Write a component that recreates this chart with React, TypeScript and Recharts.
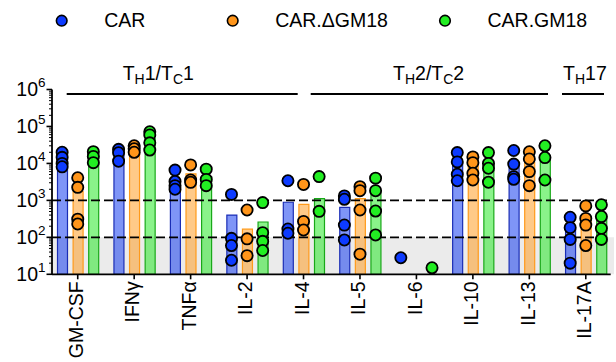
import {
  ComposedChart,
  Bar,
  Scatter,
  XAxis,
  YAxis,
  ReferenceArea,
  ReferenceLine,
} from 'recharts'

const FONT = '"Liberation Sans", Arial, Helvetica, sans-serif'

const cytokines = ['GM-CSF', 'IFNγ', 'TNFα', 'IL-2', 'IL-4', 'IL-5', 'IL-6', 'IL-10', 'IL-13', 'IL-17A']

// single donors, pg/ml
const carPoints: number[][] = [
  [20000, 14600, 10000, 8100],
  [24000, 19500, 11500],
  [6600, 3250, 2500, 2000],
  [1450, 94, 60, 24],
  [3400, 168, 129],
  [1320, 1070, 215, 85],
  [28],
  [19600, 11000, 5070, 3400],
  [22400, 9600, 4370, 3720],
  [348, 183, 88, 20],
]
const deltaPoints: number[][] = [
  [4100, 2250, 310, 230],
  [30000, 25000, 20000],
  [9100, 3550, 3080],
  [550, 91, 32],
  [2700, 270, 158],
  [2350, 1830, 550, 35],
  [],
  [15000, 10500, 5400, 3560],
  [20600, 13200, 6000, 2500],
  [710, 325, 215, 60],
]
const gmPoints: number[][] = [
  [20800, 15500, 10500],
  [72000, 59000, 36000, 23000],
  [7000, 3700, 2500],
  [870, 134, 78, 44],
  [4400, 505],
  [4000, 1830, 515, 116],
  [15],
  [19600, 10000, 7400, 3100],
  [30000, 14400, 3560],
  [760, 365, 175, 88],
]

// group means (bars)
const carMeans = [13200, 18300, 3600, 400, 890, 650, null, 9800, 10000, 160]
const deltaMeans = [1720, 25000, 5240, 166, 780, 1120, null, 8600, 10600, 330]
const gmMeans = [15700, 47500, 4400, 260, 1120, 1600, null, 10000, 16000, 350]

const majorTicks = [10, 100, 1000, 10000, 100000, 1000000]
const minorTicks = [10, 100, 1000, 10000, 100000].flatMap((d) =>
  [2, 3, 4, 5, 6, 7, 8, 9].map((m) => m * d)
)

const series = [
  { key: 'car', label: 'CAR', dot: '#0d3bff', fill: '#0a33f0', stroke: '#1a2db5', points: carPoints, dx: -15.6 },
  { key: 'delta', label: 'CAR.ΔGM18', dot: '#ff951a', fill: '#ff9a1a', stroke: '#ff9a1a', points: deltaPoints, dx: 0 },
  { key: 'gm', label: 'CAR.GM18', dot: '#22ee22', fill: '#1ee81e', stroke: '#19a819', points: gmPoints, dx: 15.6 },
]

const chartData = cytokines.map((name, i) => ({
  name,
  car: carMeans[i],
  delta: deltaMeans[i],
  gm: gmMeans[i],
}))

const toScatter = (points: number[][]) =>
  cytokines.flatMap((name, i) => points[i].map((v) => ({ name, v })))

function LogTick({ x, y, payload }: any) {
  const v = payload.value
  const exp = Math.round(Math.log10(v))
  const major = Math.abs(Math.log10(v) - exp) < 1e-6
  if (!major) {
    return <line x1={x} x2={x - 3} y1={y} y2={y} stroke="#000" strokeWidth={1} />
  }
  return (
    <g>
      <line x1={x} x2={x - 5.5} y1={y} y2={y} stroke="#000" strokeWidth={1.6} />
      <text x={x - 6.5} y={y} textAnchor="end" fontSize={19.5} fontFamily={FONT} fill="#000">
        <tspan dy={6.5}>10</tspan>
        <tspan dy={-9} fontSize={13.5}>
          {exp}
        </tspan>
      </text>
    </g>
  )
}

function CytokineTick({ x, y, payload }: any) {
  return (
    <text
      transform={`translate(${x},${y}) rotate(-90)`}
      textAnchor="end"
      dy={5.3}
      fontSize={19.5}
      fontFamily={FONT}
      fill="#000"
    >
      {payload.value}
    </text>
  )
}

const makeDot = (dx: number, color: string) => (props: any) => {
  if (props.cx == null || props.cy == null) return <g />
  return (
    <circle cx={props.cx + dx} cy={props.cy} r={5.6} fill={color} stroke="#000" strokeWidth={1.8} />
  )
}

const groups = [
  { x1: 66.7, x2: 297.7, tx: 122.7, parts: ['1/T', '1'], sub: ['H', 'C'] },
  { x1: 310.7, x2: 548, tx: 393, parts: ['2/T', '2'], sub: ['H', 'C'] },
  { x1: 562, x2: 604, tx: 563, parts: ['17'], sub: ['H'] },
]

function Overlay() {
  return (
    <svg
      width={616}
      height={362}
      style={{ position: 'absolute', left: 0, top: 0, pointerEvents: 'none' }}
      fontFamily={FONT}
    >
      {series.map((s, i) => {
        const cx = [61.7, 232.7, 445][i]
        return (
          <g key={s.key}>
            <circle cx={cx} cy={20.7} r={5.3} fill={s.dot} stroke="#000" strokeWidth={1.6} />
            <text x={cx + 42.5} y={27.3} fontSize={19.5} fill="#000">
              {s.label}
            </text>
          </g>
        )
      })}
      {groups.map((g, i) => (
        <g key={i}>
          <line x1={g.x1} x2={g.x2} y1={94} y2={94} stroke="#000" strokeWidth={2.2} />
          <text x={g.tx} y={80} fontSize={19.5} fill="#000">
            T
            <tspan fontSize={14} dy={4}>
              {g.sub[0]}
            </tspan>
            <tspan dy={-4}>{g.parts[0]}</tspan>
            {g.parts.length > 1 && (
              <>
                <tspan fontSize={14} dy={4}>
                  {g.sub[1]}
                </tspan>
                <tspan dy={-4}>{g.parts[1]}</tspan>
              </>
            )}
          </text>
        </g>
      ))}
    </svg>
  )
}

export default function App() {
  return (
    <div style={{ position: 'absolute', left: 0, top: 0, width: 616, height: 362, background: '#fff' }}>
      <ComposedChart
        width={616}
        height={362}
        data={chartData}
        margin={{ top: 89.5, right: 5.3, bottom: 7.7, left: 0 }}
        barGap={5.6}
      >
        <ReferenceArea y1={10} y2={100} fill="#ebebeb" fillOpacity={1} stroke="none" ifOverflow="visible" />
        <XAxis
          dataKey="name"
          type="category"
          allowDuplicatedCategory={false}
          interval={0}
          height={80}
          tickSize={5}
          tickMargin={2}
          padding={{ left: -2.5, right: -3.3 }}
          axisLine={{ stroke: '#000', strokeWidth: 1.8 }}
          tickLine={{ stroke: '#000', strokeWidth: 1.6 }}
          tick={<CytokineTick />}
        />
        <YAxis
          type="number"
          scale="log"
          domain={[10, 1000000]}
          allowDataOverflow
          ticks={[...majorTicks, ...minorTicks].sort((a, b) => a - b)}
          interval={0}
          width={52}
          tickSize={0}
          tickMargin={0}
          tickLine={false}
          axisLine={{ stroke: '#000', strokeWidth: 1.8 }}
          tick={<LogTick />}
        />
        {series.map((s) => (
          <Bar
            key={s.key}
            dataKey={s.key}
            barSize={10}
            fill={s.fill}
            fillOpacity={0.52}
            stroke={s.stroke}
            strokeWidth={1.2}
            isAnimationActive={false}
          />
        ))}
        <ReferenceLine y={1000} stroke="#000" strokeWidth={1.6} strokeDasharray="9 4" />
        <ReferenceLine y={100} stroke="#000" strokeWidth={1.6} strokeDasharray="9 4" />
        {series.map((s) => (
          <Scatter
            key={s.key + '-pts'}
            data={toScatter(s.points)}
            dataKey="v"
            shape={makeDot(s.dx, s.dot)}
            isAnimationActive={false}
          />
        ))}
      </ComposedChart>
      <Overlay />
    </div>
  )
}
